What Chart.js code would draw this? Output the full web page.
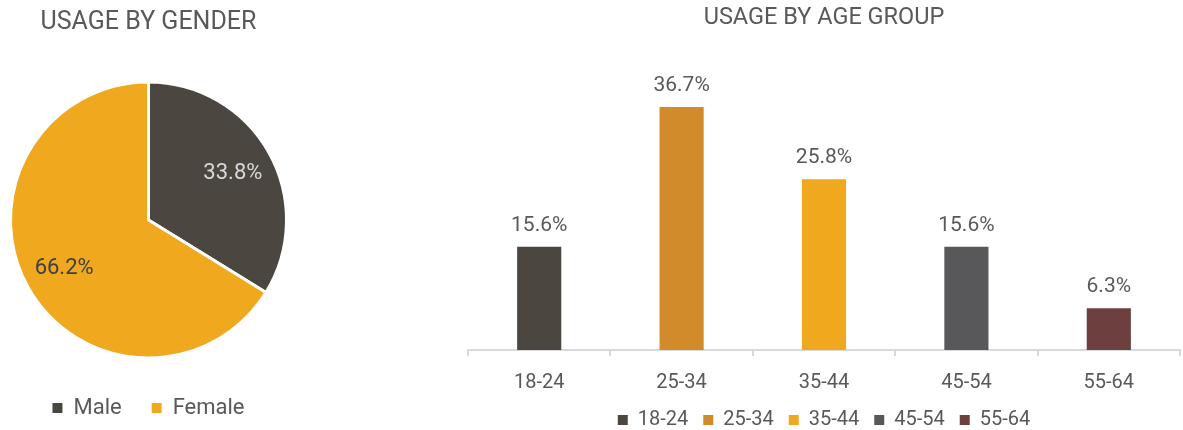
<!DOCTYPE html>
<html>
<head>
<meta charset="utf-8">
<script src="https://cdn.jsdelivr.net/npm/chart.js@4.4.1/dist/chart.umd.min.js"></script>
<style>
  html, body { margin: 0; padding: 0; background: #fff; }
  body { width: 1183px; height: 430px; position: relative; overflow: hidden; }
  .box { position: absolute; top: 0; }
  #genderBox { left: 0; width: 300px; height: 430px; }
  /* a bit taller than the window so the legend sits near the bottom edge */
  #ageBox { left: 440px; width: 743px; height: 440px; }
</style>
</head>
<body>
<div class="box" id="genderBox"><canvas id="gender"></canvas></div>
<div class="box" id="ageBox"><canvas id="age"></canvas></div>
<script>
// gender split
const genderLabels = ['Male', 'Female'];
const genderValues = [33.8, 66.2];
const genderColors = ['#4b4640', '#f0a91f'];
const genderTextColors = ['#d9d9d9', '#404040'];

// age groups
const ageLabels = ['18-24', '25-34', '35-44', '45-54', '55-64'];
const ageValues = [15.6, 36.7, 25.8, 15.6, 6.3];
const ageColors = ['#4b4640', '#d18b2b', '#f0a91f', '#58585a', '#6e3f3f'];

const textColor = '#595959';
const font = 'Roboto';
Chart.defaults.font.family = font;
Chart.defaults.color = textColor;

const pct = v => v.toFixed(1) + '%';

function legendItems(labels, colors) {
  return labels.map((text, i) => ({
    text, fillStyle: colors[i], strokeStyle: colors[i], lineWidth: 0,
    fontColor: textColor, hidden: false, index: i, datasetIndex: 0
  }));
}

/* value labels inside the pie slices */
const pieLabels = {
  id: 'pieLabels',
  afterDatasetsDraw(chart) {
    const { ctx } = chart;
    const meta = chart.getDatasetMeta(0);
    ctx.save();
    ctx.font = '22px ' + font;
    ctx.textAlign = 'center';
    ctx.textBaseline = 'middle';
    meta.data.forEach((arc, i) => {
      const mid = (arc.startAngle + arc.endAngle) / 2;
      const r = arc.outerRadius * 0.7;
      ctx.fillStyle = genderTextColors[i];
      ctx.fillText(pct(genderValues[i]), arc.x + Math.cos(mid) * r, arc.y + Math.sin(mid) * r + 1);
    });
    ctx.restore();
  }
};

/* value labels above the bars */
const barLabels = {
  id: 'barLabels',
  afterDatasetsDraw(chart) {
    const { ctx } = chart;
    const meta = chart.getDatasetMeta(0);
    ctx.save();
    ctx.font = '21px ' + font;
    ctx.fillStyle = textColor;
    ctx.textAlign = 'center';
    ctx.textBaseline = 'alphabetic';
    meta.data.forEach((bar, i) => {
      ctx.fillText(pct(ageValues[i]), bar.x, bar.y - 16);
    });
    ctx.restore();
  }
};

new Chart(document.getElementById('gender'), {
  type: 'pie',
  data: {
    labels: genderLabels,
    datasets: [{
      data: genderValues,
      backgroundColor: genderColors,
      borderColor: '#ffffff',
      borderWidth: 3
    }]
  },
  options: {
    responsive: true,
    maintainAspectRatio: false,
    animation: false,
    layout: { padding: { left: 9, right: 12, top: 0, bottom: 1 } },
    plugins: {
      title: {
        display: true,
        text: 'USAGE BY GENDER',
        color: textColor,
        font: { size: 25, weight: 'normal' },
        padding: { top: 8, bottom: 35 }
      },
      legend: {
        position: 'bottom',
        labels: {
          boxWidth: 10, boxHeight: 10, padding: 30,
          font: { size: 22 },
          generateLabels: () => legendItems(genderLabels, genderColors)
        }
      },
      tooltip: { enabled: false }
    }
  },
  plugins: [pieLabels]
});

new Chart(document.getElementById('age'), {
  type: 'bar',
  data: {
    labels: ageLabels,
    datasets: [{
      label: 'Usage',
      data: ageValues,
      backgroundColor: ageColors,
      categoryPercentage: 1,
      barPercentage: 0.31
    }]
  },
  options: {
    responsive: true,
    maintainAspectRatio: false,
    animation: false,
    layout: { padding: { left: 28, right: 3, top: 0, bottom: 0 } },
    scales: {
      y: { display: false, min: 0, max: 40 },
      x: {
        offset: true,
        grid: { offset: true, drawOnChartArea: false, drawTicks: true, tickLength: 6, color: '#d9d9d9', lineWidth: 2 },
        border: { display: true, color: '#d9d9d9', width: 2 },
        ticks: { color: textColor, font: { size: 20 }, padding: 15 },
        afterFit: scale => { scale.height = 45; }
      }
    },
    plugins: {
      title: {
        display: true,
        text: 'USAGE BY AGE GROUP',
        color: textColor,
        font: { size: 23.5, weight: 'normal' },
        padding: { top: 4, bottom: 53 }
      },
      legend: {
        position: 'bottom',
        labels: {
          boxWidth: 10, boxHeight: 10, padding: 15,
          font: { size: 20 },
          generateLabels: () => legendItems(ageLabels, ageColors)
        }
      },
      tooltip: { enabled: false }
    }
  },
  plugins: [barLabels]
});
</script>
</body>
</html>
